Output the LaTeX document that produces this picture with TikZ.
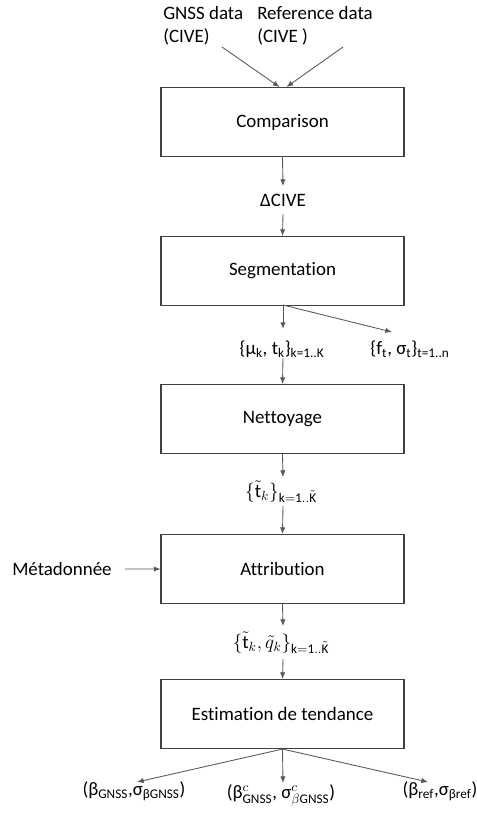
\documentclass[tikz,border=0pt]{standalone}
\usepackage{fontspec}
\setmainfont{Carlito}[Ligatures=NoCommon]
\usetikzlibrary{arrows.meta}
\newcommand\dn[1]{\textsubscript{#1}}
\begin{document}
\begin{tikzpicture}[x=0.75pt,y=-0.75pt,
  every node/.style={font=\fontsize{14.2}{17}\selectfont, inner sep=0pt},
  stage/.style={draw=black!75, line width=0.8pt, minimum width=243*0.75pt, minimum height=69*0.75pt, anchor=north},
  flow/.style={draw=black!65, line width=0.65pt, -{Latex[length=5pt,width=4pt]}}]
\useasboundingbox[fill=white] (0,0) rectangle (476,821);

% processing stages
\node[stage] (cmp) at (282.5,87) {Comparison};
\node[stage] (seg) at (282.5,236) {Segmentation};
\node[stage] (net) at (282.5,384) {Nettoyage};
\node[stage] (att) at (282.5,534) {Attribution};
\node[stage] (est) at (282.5,679) {Estimation de tendance};

% inputs
\node[align=left, anchor=north west] (gnss) at (163,6) {GNSS data\\(CIVE)};
\node[align=left, anchor=north west] (ref) at (257,6) {Reference data\\(CIVE )};
\node[anchor=west] (meta) at (12,569) {Métadonnée};

% intermediate results
\node (dcive) at (283,200) {ΔCIVE};
\node (mut) at (282,349) {\{μ\dn{k}, t\dn{k}\}\dn{k=1..K}};
\node (fs) at (410,349) {\{f\dn{t}, σ\dn{t}\}\dn{t=1..n}};
\node (tk) at (281,492) {$\{\tilde{\mathrm{t}}_k\}_{\mathrm{k=1..}\tilde{\mathrm{K}}}$};
\node (tq) at (281,643) {$\{\tilde{\mathrm{t}}_k,\tilde{q}_k\}_{\mathrm{k=1..}\tilde{\mathrm{K}}}$};

% outputs
\node (bg) at (134,791) {(β\dn{GNSS},σ\dn{βGNSS})};
\node (bc) at (281,795) {(β$^{c}_{\mathrm{GNSS}}$, σ$^{c}_{\beta\mathrm{GNSS}}$)};
\node (br) at (440,791) {(β\dn{ref},σ\dn{βref})};

% connectors
\coordinate (gnssend) at (222,47);
\coordinate (refend) at (343,47);
\coordinate (segout) at (283,305);
\draw[flow] (gnssend) -- ([xshift=-3*0.75pt]cmp.north);
\draw[flow] (refend) -- ([xshift=4*0.75pt]cmp.north);
\draw[flow] (cmp.south) -- (283,186);
\draw[flow] (283,214) -- (seg.north);
\draw[flow] (segout) -- (283,329);
\draw[flow] (segout) -- (392,332);
\draw[flow] (283,358) -- (net.north);
\draw[flow] (net.south) -- (283,477);
\draw[flow] (283,506) -- (att.north);
\draw[flow] (meta.east) ++(13*0.75pt,0) -- (att.west);
\draw[flow] (att.south) -- (283,626);
\draw[flow] (283,659) -- (est.north);
\draw[flow] (est.south) -- (137,782);
\draw[flow] (est.south) -- (283,783);
\draw[flow] (est.south) -- (428,782);
\end{tikzpicture}
\end{document}
